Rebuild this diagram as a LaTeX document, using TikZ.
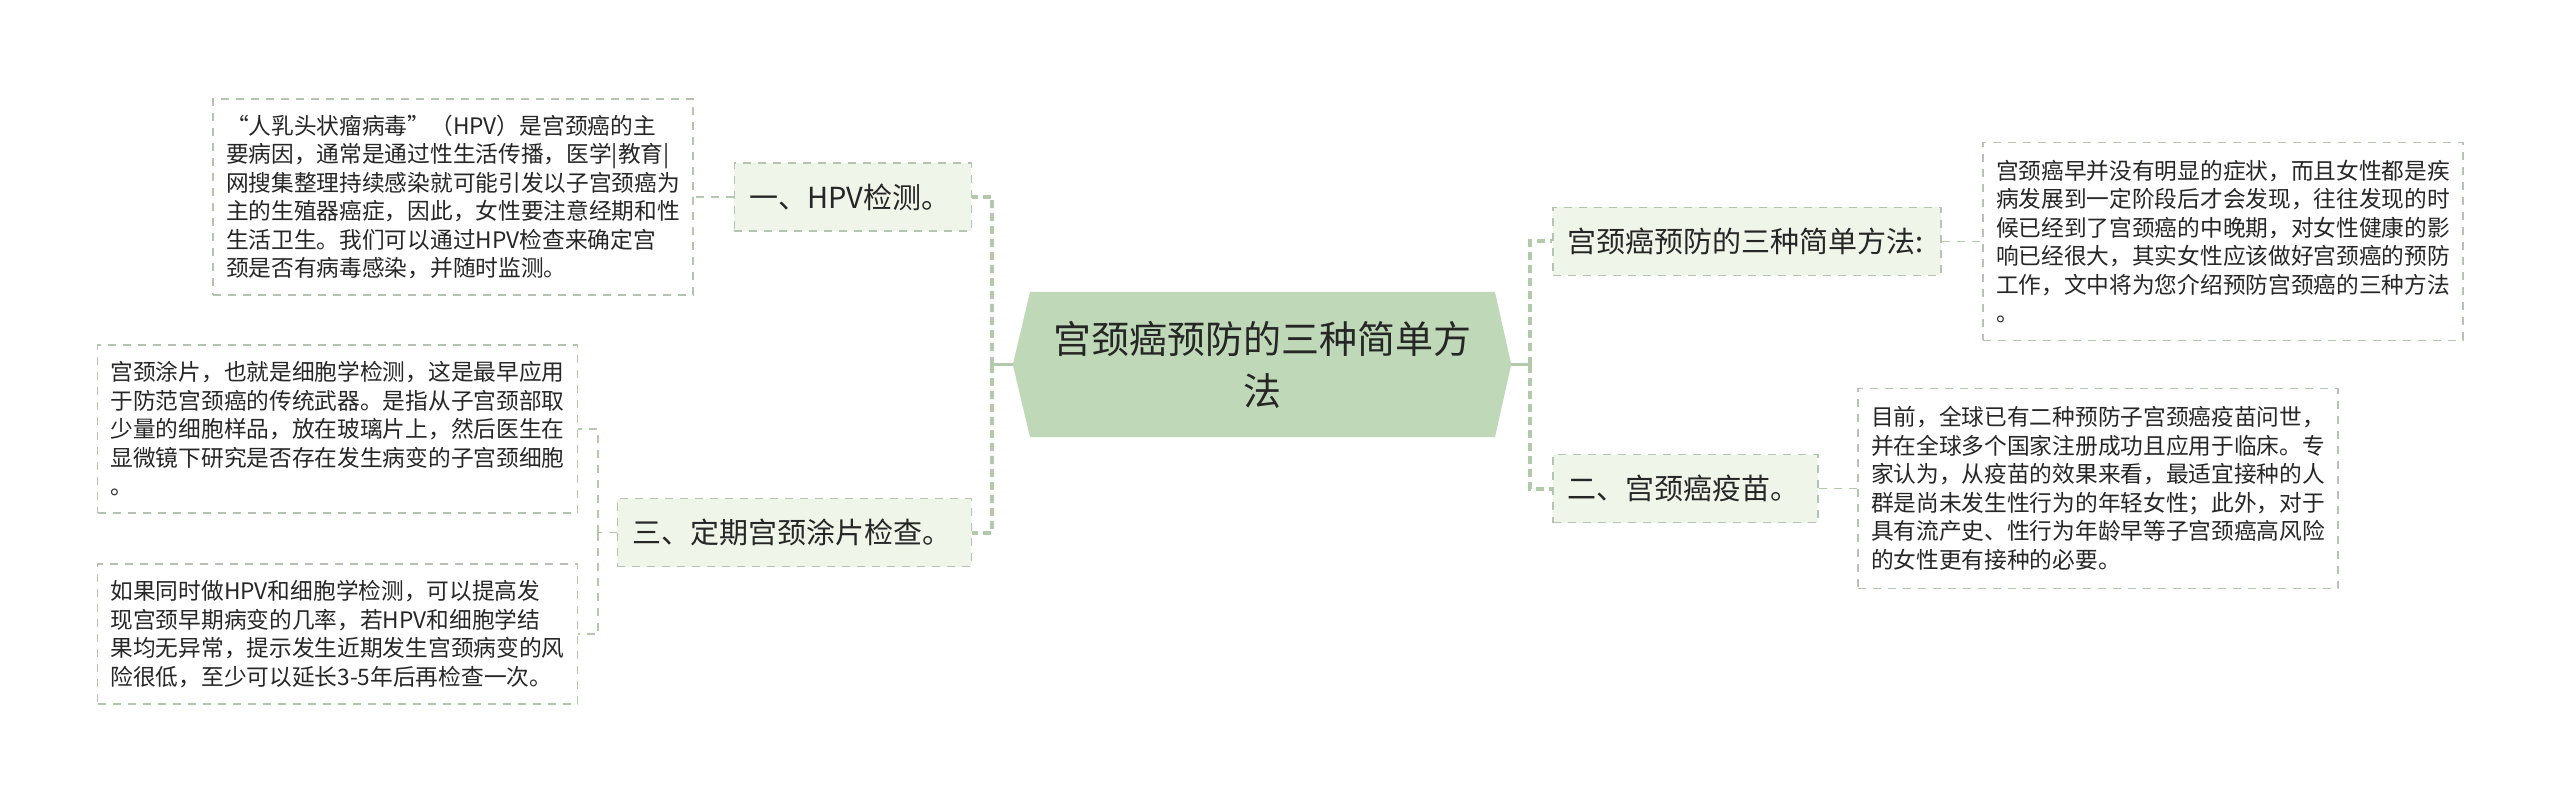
\documentclass[tikz,border=0pt]{standalone}
\usepackage{fontspec}
\newfontfamily\cjk{Noto Sans CJK SC}
\usepackage{tikz}
\usetikzlibrary{backgrounds}
\definecolor{rootgreen}{HTML}{BFD9B8}
\definecolor{leafgreen}{HTML}{EFF5E9}
\definecolor{edgegreen}{HTML}{B5C4B0}
\definecolor{linegreen}{HTML}{B2C9AC}
\definecolor{ink}{HTML}{262626}

\begin{document}
\begin{tikzpicture}[x=1pt, y=-1pt,
    note/.style={draw=edgegreen, line width=1.5pt, dash pattern=on 8pt off 7pt,
        fill=white, text=ink, align=left, text width=454pt, inner xsep=13pt,
        font=\cjk\fontsize{22.7}{28.5}\selectfont},
    branch/.style={draw=edgegreen, line width=1.5pt, dash pattern=on 8pt off 7pt,
        fill=leafgreen, text=ink, align=left, minimum height=68pt, inner xsep=15pt,
        font=\cjk\fontsize{29}{34}\selectfont},
    roottext/.style={text=ink, align=center, minimum width=498pt, minimum height=145pt,
        inner sep=0pt, font=\cjk\fontsize{38}{52}\selectfont},
    stem/.style={draw=linegreen, line width=3pt},
    trunk/.style={draw=linegreen, line width=4pt, dash pattern=on 8pt off 5pt},
    link/.style={draw=linegreen, line width=1.8pt, dash pattern=on 8pt off 7pt}]

    % central topic
    \node[roottext] (root) at (1262, 364.5) {宫颈癌预防的三种简单方\\法};

    % first level
    \node[branch, text width=207pt, anchor=east] (hpv) at (972, 197) {一、HPV检测。};
    \node[branch, text width=324pt, anchor=east] (smear) at (972, 532.5) {三、定期宫颈涂片检查。};
    \node[branch, text width=358pt, anchor=west] (ways) at (1552, 241.5) {宫颈癌预防的三种简单方法:};
    \node[branch, text width=235pt, anchor=west] (vacc) at (1552, 488.5) {二、宫颈癌疫苗。};

    % notes
    \node[note, minimum height=196pt] (hpvnote) at (453, 197) {“人乳头状瘤病毒”（HPV）是宫颈癌的主\\要病因，通常是通过性生活传播，医学|教育|\\网搜集整理持续感染就可能引发以子宫颈癌为\\主的生殖器癌症，因此，女性要注意经期和性\\生活卫生。我们可以通过HPV检查来确定宫\\颈是否有病毒感染，并随时监测。};
    \node[note, minimum height=168pt] (smearnote) at (337.5, 429) {宫颈涂片，也就是细胞学检测，这是最早应用\\于防范宫颈癌的传统武器。是指从子宫颈部取\\少量的细胞样品，放在玻璃片上，然后医生在\\显微镜下研究是否存在发生病变的子宫颈细胞\\。};
    \node[note, minimum height=140pt] (bothnote) at (337.5, 634) {如果同时做HPV和细胞学检测，可以提高发\\现宫颈早期病变的几率，若HPV和细胞学结\\果均无异常，提示发生近期发生宫颈病变的风\\险很低，至少可以延长3-5年后再检查一次。};
    \node[note, minimum height=198pt] (waysnote) at (2223, 241.5) {宫颈癌早并没有明显的症状，而且女性都是疾\\病发展到一定阶段后才会发现，往往发现的时\\候已经到了宫颈癌的中晚期，对女性健康的影\\响已经很大，其实女性应该做好宫颈癌的预防\\工作，文中将为您介绍预防宫颈癌的三种方法\\。};
    \node[note, minimum height=200pt] (vaccnote) at (2098, 488.5) {目前，全球已有二种预防子宫颈癌疫苗问世，\\并在全球多个国家注册成功且应用于临床。专\\家认为，从疫苗的效果来看，最适宜接种的人\\群是尚未发生性行为的年轻女性；此外，对于\\具有流产史、性行为年龄早等子宫颈癌高风险\\的女性更有接种的必要。};

    % joints
    \coordinate (lj) at (992, 364.5);
    \coordinate (rj) at (1530, 364.5);
    \coordinate (sj) at (598, 532.5);

    % connectors
    \draw[stem] (root.west) -- (lj);
    \draw[stem] (root.east) -- (rj);
    \draw[trunk] (lj) |- (hpv.east);
    \draw[trunk] (lj) |- (smear.east);
    \draw[trunk] (rj) |- (ways.west);
    \draw[trunk] (rj) |- (vacc.west);
    \draw[link] (hpv.west) -- (hpvnote.east);
    \draw[link] (smear.west) -- (sj);
    \draw[link] (sj) |- (smearnote.east);
    \draw[link] (sj) |- (bothnote.east);
    \draw[link] (ways.east) -- (waysnote.west);
    \draw[link] (vacc.east) -- (vaccnote.west);

    % background and hexagon
    \begin{scope}[on background layer]
        \fill[white] (0, 0) rectangle (2560, 802);
        \fill[rootgreen] (root.west) -- (1030, 292) -- (1495, 292) -- (root.east)
            -- (1495, 437) -- (1030, 437) -- cycle;
    \end{scope}
    \useasboundingbox (0, 0) rectangle (2560, 802);
\end{tikzpicture}
\end{document}
